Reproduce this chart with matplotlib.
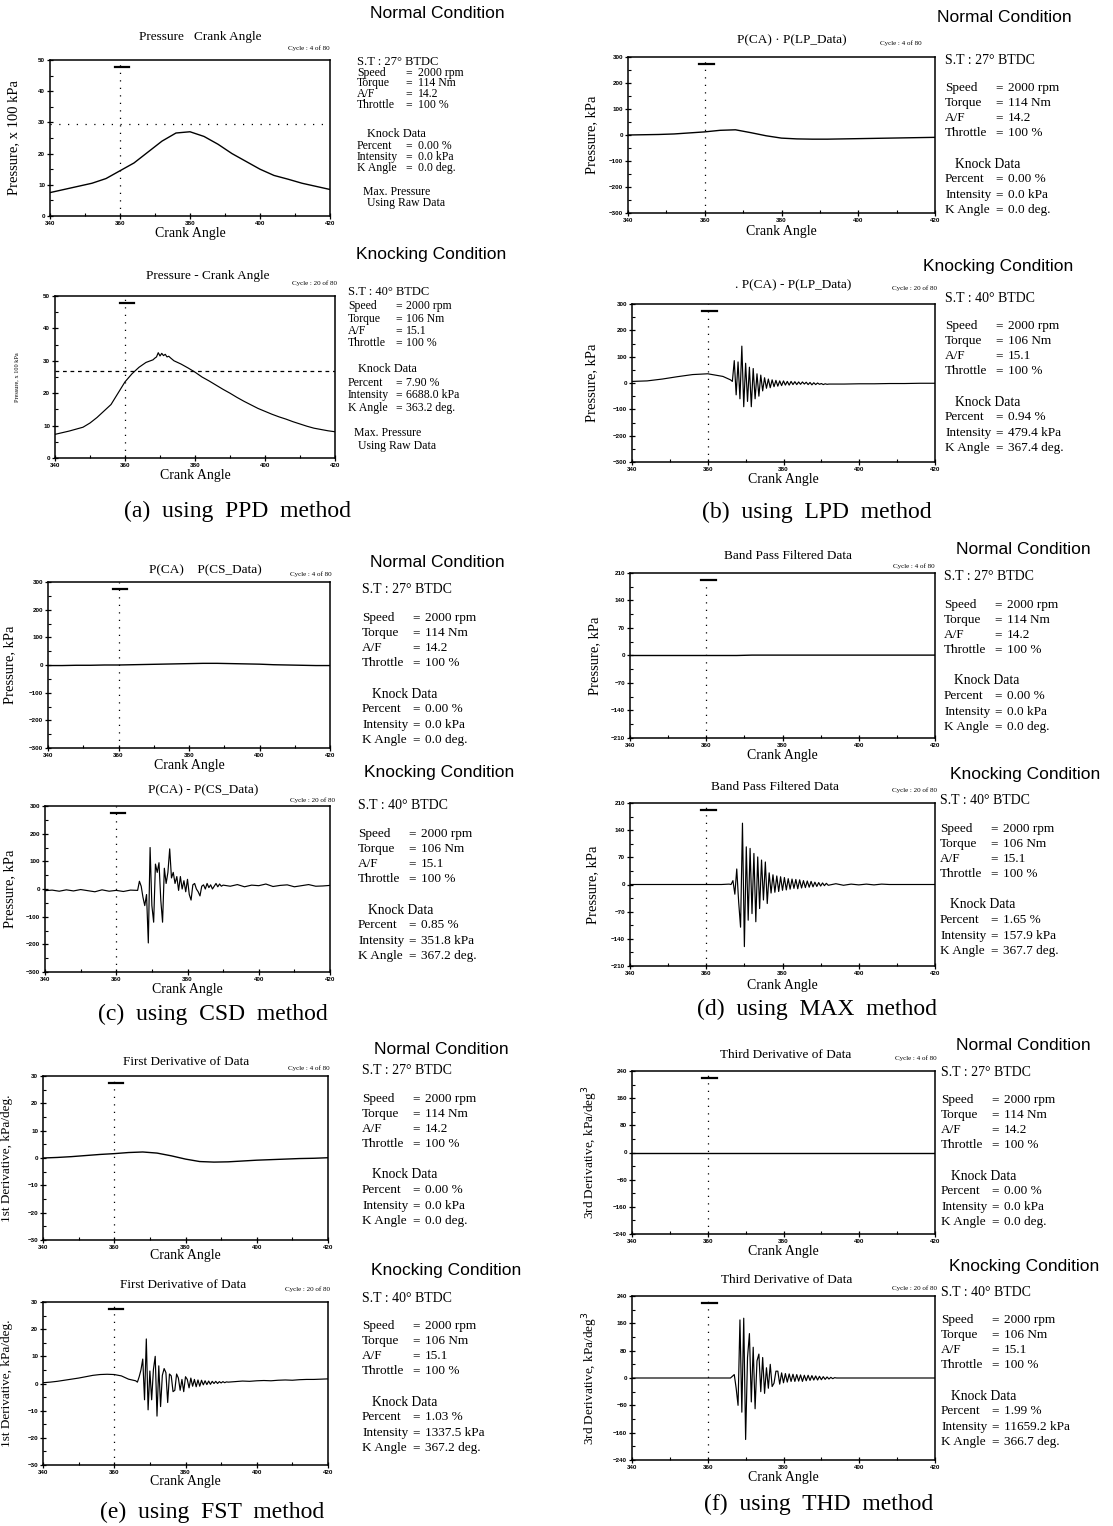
import numpy as np
import matplotlib
matplotlib.use('Agg')
import matplotlib.pyplot as plt
import matplotlib.transforms as mtransforms

# ---------------- data ----------------
methods = ["PPD", "LPD", "CSD", "MAX", "FST", "THD"]
letters = ["a", "b", "c", "d", "e", "f"]
plot_titles_normal = ["Pressure   Crank Angle", "P(CA) \u00b7 P(LP_Data)", "P(CA)    P(CS_Data)",
                      "Band Pass Filtered Data", "First Derivative of Data", "Third Derivative of Data"]
plot_titles_knock = ["Pressure - Crank Angle", ". P(CA) - P(LP_Data)", "P(CA) - P(CS_Data)",
                     "Band Pass Filtered Data", "First Derivative of Data", "Third Derivative of Data"]
y_labels = ["Pressure, x 100 kPa", "Pressure, kPa", "Pressure, kPa", "Pressure, kPa",
            "1st Derivative, kPa/deg.", "3rd Derivative, kPa/deg$^3$"]
cycle_normal = "Cycle : 4 of 80"
cycle_knock = "Cycle : 20 of 80"

st_normal = "S.T : 27\u00b0 BTDC"
st_knock = "S.T : 40\u00b0 BTDC"
engine_labels = ["Speed", "Torque", "A/F", "Throttle"]
engine_normal = ["2000 rpm", "114 Nm", "14.2", "100 %"]
engine_knock = ["2000 rpm", "106 Nm", "15.1", "100 %"]
knock_labels = ["Percent", "Intensity", "K Angle"]
percent_normal = [0.00] * 6
intensity_normal = [0.0] * 6
kangle_normal = [0.0] * 6
percent_knock = [7.90, 0.94, 0.85, 1.65, 1.03, 1.99]
intensity_knock = [6688.0, 479.4, 351.8, 157.9, 1337.5, 11659.2]
kangle_knock = [363.2, 367.4, 367.2, 367.7, 367.2, 366.7]

tdc_angle = 360
ca_coarse = [340, 344, 348, 352, 356, 360, 364, 368, 372, 376, 380,
             384, 388, 392, 396, 400, 404, 408, 412, 416, 420]

# normal condition traces on ca_coarse
ppd_normal = [7.5, 8.5, 9.5, 10.5, 12.0, 14.5, 17.0, 20.5, 24.0, 26.6, 27.0,
              25.5, 23.0, 20.0, 17.5, 15.0, 13.0, 11.8, 10.5, 9.5, 8.5]
lpd_normal = [0, 1, 2, 4, 8, 12, 18, 20, 9, -3, -12,
              -15, -16, -16, -15, -14, -13, -12, -11, -10, -9]
csd_normal = [-2, -2, -1, -1, 0, 0, 1, 2, 3, 4, 5,
              6, 6, 5, 4, 3, 1, 0, -1, -2, -2]
max_normal = [0, 0, 0, 0, 0, 0, 0, 0, 1, 1, 1,
              1, 1, 1, 1, 1, 1, 1, 1, 1, 1]
fst_normal = [0.0, 0.2, 0.5, 0.9, 1.3, 1.6, 2.0, 2.2, 1.8, 0.8, -0.4,
              -1.3, -1.5, -1.4, -1.1, -0.8, -0.6, -0.4, -0.2, -0.1, 0.1]
thd_normal = [0, 0, 0, 0, 0, 0, 0, 0, 0, 0, 0,
              0, 0, 0, 0, 0, 0, 0, 0, 0, 0]
ppd_threshold_normal = 29.5
ppd_threshold_knock = 26.9

# knocking traces: (start angle, step) segments
ppd_knock_pre = [7.3, 7.8, 8.3, 8.9, 9.5, 10.8, 12.5, 14.5, 16.5, 20.0, 23.5, 26.0, 28.0, 29.5, 30.3]  # 340..368 step 2
ppd_knock_peak = [30.8, 31.2, 32.5, 31.5, 32.3, 31.6, 32.0, 31.2, 31.4, 30.9]  # 368.5..373 step .5
ppd_knock_post = [30.0, 29.0, 27.8, 26.5, 25.0, 23.8, 22.5, 21.2, 20.0, 18.7, 17.5, 16.4, 15.3,
                  14.4, 13.5, 12.7, 12.0, 11.2, 10.5, 9.8, 9.2, 8.8, 8.4, 8.1]  # 374..420 step 2

lpd_knock_pre = [6, 8, 15, 24, 32, 35, 25]  # 340..364 step 4
lpd_knock_osc = [12, 6, 85, -45, 80, -60, 140, -90, 75, -70, 60, -90, 55, -60, 35, -50,
                 30, -30, 20, -20, 15, -18, 12, -14, 10, -12, 8, -10, 8, -8, 6, -8,
                 6, -6, 5, -6, 4, -5, 4, -4, 3, -6, 2, -7, 1, -6, 0, -5, -2, -6, -3, -5, -4]  # 366..392 step .5
lpd_knock_post = [-4, -3, -3, -2, -2, -1, -1]  # 396..420 step 4

csd_knock_pre = [-6, -4, -8, -3, -7, -2, -6, -10, -3, -8, -5, -9, -4]  # 340..364 step 2
csd_knock_osc = [-5, 28, 10, -30, -60, -20, -195, 150, -60, -120, 90, 60, 95, -40, -120, 75,
                 20, 60, 145, 40, 60, 20, 45, -5, 45, 0, 30, -10, 35, -20, -40, 15,
                 20, 0, -10, -25, 10, 15, 0, 20, 5, 15, 0, 10, 20, 8, 18, 10, 14]  # 366..390 step .5
csd_knock_post = [10, 16, 8, 14, 12, 18, 9, 13, 15, 8, 12, 16, 10, 11, 13]  # 392..420 step 2

max_knock_pre = [0, 0, 0, 0, 0, 0, 0, 0, 0, 0, 0, 0, 0, 1]  # 340..366 step 2
max_knock_osc = [0, 10, -25, 40, -45, -110, 158, -160, 97, -92, 93, -75, 80, -96, 71, -62,
                 63, -40, 58, -49, 30, -22, 25, -20, 22, -18, 20, -15, 18, -14, 15, -12,
                 14, -10, 13, -11, 12, -9, 10, -8, 9, -7, 8, -6, 6, -5, 5, -4, 4, -3, 3, -2]  # 366.5..392 step .5
max_knock_post = [2, -2, 1, -1, 1, -1, 1, 0, 0, 0, 0, 0, 0, 0]  # 394..420 step 2

fst_knock_pre = [0.3, 0.5, 0.8, 1.2, 1.6, 2.0, 2.5, 3.0, 3.3, 3.4, 3.3, 2.8, 1.6]  # 340..364 step 2
fst_knock_osc = [1.0, 0.5, 2.5, 5.0, 9.0, -6.0, 16.4, -9.7, 4.6, -6.0, 5.2, 10.0, -12.0, 6.5, -8.5, 3.0,
                 5.5, 4.0, -7.0, 3.5, 2.8, -3.0, -2.5, 3.5, 2.0, -2.5, 1.5, -3.0, 2.5, 1.5, -1.6, 2.0,
                 -1.0, 1.5, -1.2, 1.3, -1.0, 1.2, -0.5, 1.0, -0.4, 0.9, -0.3, 0.8, 0.0, 0.8, 0.0, 0.7,
                 0.2, 0.7, 0.3, 0.6, 0.5]  # 366..392 step .5
fst_knock_post = [0.7, 0.9, 0.8, 1.0, 1.1, 1.0, 1.2, 1.3, 1.2, 1.4, 1.5, 1.5, 1.6, 1.7]  # 394..420 step 2

thd_knock_pre = [0, 0, 0, 0, 0, 0, 0, 0, 0, 0, 0, 0, 0]  # 340..364 step 2
thd_knock_osc = [0, 5, 10, -30, -80, 170, -100, 175, -180, 60, 130, -70, 90, -90, 50, 70,
                 -40, 60, -45, 30, -30, 40, -25, -15, 20, 20, -18, 15, -14, 13, -12, 12,
                 -10, 11, -10, 10, -9, 9, -10, 8, -8, 8, -7, 7, -6, 6, -6, 5, -5, 4,
                 -4, 3, -3, 2, -2, 1, 0]  # 366..394 step .5
thd_knock_post = [0, 0, 0, 0, 0, 0, 0, 0, 0, 0, 0, 0, 0]  # 396..420 step 2

# ---------------- helpers ----------------
def seg(start, step, vals):
    return start + step * np.arange(len(vals)), np.asarray(vals, dtype=float)

def join(*parts):
    xs = np.concatenate([p[0] for p in parts])
    ys = np.concatenate([p[1] for p in parts])
    return xs, ys

normal_traces = [ppd_normal, lpd_normal, csd_normal, max_normal, fst_normal, thd_normal]
knock_traces = [
    join(seg(340, 2, ppd_knock_pre), seg(368.5, 0.5, ppd_knock_peak), seg(374, 2, ppd_knock_post)),
    join(seg(340, 4, lpd_knock_pre), seg(366, 0.5, lpd_knock_osc), seg(396, 4, lpd_knock_post)),
    join(seg(340, 2, csd_knock_pre), seg(366, 0.5, csd_knock_osc), seg(392, 2, csd_knock_post)),
    join(seg(340, 2, max_knock_pre), seg(366.5, 0.5, max_knock_osc), seg(394, 2, max_knock_post)),
    join(seg(340, 2, fst_knock_pre), seg(366, 0.5, fst_knock_osc), seg(394, 2, fst_knock_post)),
    join(seg(340, 2, thd_knock_pre), seg(366, 0.5, thd_knock_osc), seg(396, 2, thd_knock_post)),
]
y_ranges = [(0, 50, 10), (-300, 300, 100), (-300, 300, 100), (-210, 210, 70), (-30, 30, 10), (-240, 240, 80)]

# ---------------- layout (pixels) ----------------
W, H = 1113, 1526
fig = plt.figure(figsize=(W / 100, H / 100), dpi=100)
SERIF = ['Liberation Serif', 'DejaVu Serif']
SANS = ['Liberation Sans', 'DejaVu Sans']

def ftext(x, y, s, **kw):
    kw.setdefault('va', 'center')
    fig.text(x / W, 1 - y / H, s, **kw)

layout_normal = [
    dict(box=(50, 330, 60, 216), title=(200, 37), cyc=(330, 48), cond=(437, 14), info=(357, 62), ylx=14, xly=234),
    dict(box=(628, 935, 57, 213), title=(792, 40), cyc=(922, 43), cond=(1004, 17), info=(945, 60), ylx=592, xly=232),
    dict(box=(48, 330, 582, 748), title=(205, 570), cyc=(332, 574), cond=(437, 562), info=(362, 590), ylx=10, xly=765),
    dict(box=(630, 935, 573, 738), title=(788, 556), cyc=(935, 566), cond=(1023, 549), info=(944, 577), ylx=595, xly=756),
    dict(box=(43, 328, 1076, 1240), title=(186, 1062), cyc=(330, 1068), cond=(441, 1050), info=(362, 1071), ylx=7, xly=1256),
    dict(box=(632, 935, 1071, 1234), title=(786, 1055), cyc=(937, 1058), cond=(1023, 1046), info=(941, 1072), ylx=590, xly=1251),
]
layout_knock = [
    dict(box=(55, 335, 296, 458), title=(208, 276), cyc=(337, 283), cond=(431, 254), info=(348, 292), ylx=17, xly=476),
    dict(box=(632, 935, 304, 462), title=(793, 285), cyc=(937, 288), cond=(998, 267), info=(945, 298), ylx=592, xly=480),
    dict(box=(45, 330, 806, 972), title=(203, 790), cyc=(335, 800), cond=(439, 773), info=(358, 806), ylx=10, xly=989),
    dict(box=(630, 935, 803, 966), title=(775, 787), cyc=(937, 790), cond=(1025, 774), info=(940, 801), ylx=593, xly=985),
    dict(box=(43, 328, 1302, 1465), title=(183, 1285), cyc=(330, 1289), cond=(446, 1270), info=(362, 1298), ylx=7, xly=1481),
    dict(box=(632, 935, 1296, 1460), title=(787, 1280), cyc=(937, 1288), cond=(1024, 1267), info=(941, 1292), ylx=590, xly=1477),
]
captions = [(237, 511), (817, 512), (213, 1014), (817, 1009), (212, 1512), (819, 1504)]

offs_ppd = [0, 11, 21, 32, 43, 72, 84, 95, 106, 130, 141]
offs_ppd_k = [0, 14, 27, 39, 51, 77, 91, 103, 116, 141, 154]
offs_std = [0, 28, 43, 58, 73, 104, 119, 135, 150]


def draw_axes(L, xs, ys, yr, title, cycle, ylab, ylab_fs, threshold=None, thr_ls=(0, (1, 6)), lw=1.0):
    x0, x1, y0, y1 = L['box']
    ax = fig.add_axes([x0 / W, 1 - y1 / H, (x1 - x0) / W, (y1 - y0) / H])
    ax.plot(xs, ys, color='k', lw=lw)
    lo, hi, st = yr
    ax.set_xlim(340, 420)
    ax.set_ylim(lo, hi)
    ax.set_yticks(np.arange(lo, hi + st / 2, st))
    ax.set_yticks(np.arange(lo + st / 2, hi, st), minor=True)
    ax.set_xticks([340, 360, 380, 400, 420])
    ax.set_xticks([350, 370, 390, 410], minor=True)
    ax.tick_params(which='major', direction='inout', length=5, width=0.9, labelsize=4.5, pad=1.0)
    ax.tick_params(which='minor', direction='in', length=2.5, width=0.8)
    for lab in ax.get_xticklabels() + ax.get_yticklabels():
        lab.set_fontweight('bold')
        lab.set_family(SANS)
    for sp in ax.spines.values():
        sp.set_linewidth(1.1)
    ax.axvline(tdc_angle, color='k', lw=0.9, ls=(0, (1, 5)))
    trans = mtransforms.blended_transform_factory(ax.transData, ax.transAxes)
    ax.plot([tdc_angle - 1.5, tdc_angle + 2.5], [0.955, 0.955], color='k', lw=1.6, transform=trans)
    if threshold is not None:
        ax.axhline(threshold, color='k', lw=0.9, ls=thr_ls)
    ftext(L['title'][0], L['title'][1], title, ha='center', fontsize=9.5, family=SERIF)
    ftext(L['cyc'][0], L['cyc'][1], cycle, ha='right', fontsize=5, family=SERIF)
    ftext(L['ylx'], (y0 + y1) / 2, ylab, ha='center', rotation=90, fontsize=ylab_fs, family=SERIF)
    ftext((x0 + x1) / 2, L['xly'], "Crank Angle", ha='center', fontsize=10, family=SERIF)
    return ax


def draw_info(L, offs, st, eng, kvals, fs, eq_dx, val_dx, extra=False):
    x, y = L['info']
    ftext(x, y + offs[0], st, fontsize=fs + 0.5, family=SERIF)
    for i, (lab, val) in enumerate(zip(engine_labels, eng)):
        yy = y + offs[1 + i]
        ftext(x, yy, lab, fontsize=fs, family=SERIF)
        ftext(x + eq_dx, yy, "=", fontsize=fs, family=SERIF)
        ftext(x + val_dx, yy, val, fontsize=fs, family=SERIF)
    ftext(x + 10, y + offs[5], "Knock Data", fontsize=fs + 0.3, family=SERIF)
    for j, (lab, val) in enumerate(zip(knock_labels, kvals)):
        yy = y + offs[6 + j]
        ftext(x, yy, lab, fontsize=fs, family=SERIF)
        ftext(x + eq_dx, yy, "=", fontsize=fs, family=SERIF)
        ftext(x + val_dx, yy, val, fontsize=fs, family=SERIF)
    if extra:
        ftext(x + 6, y + offs[9], "Max. Pressure", fontsize=fs, family=SERIF)
        ftext(x + 10, y + offs[10], "Using Raw Data", fontsize=fs, family=SERIF)


for k in range(6):
    Ln = layout_normal[k]
    thr_n = ppd_threshold_normal if k == 0 else None
    draw_axes(Ln, np.asarray(ca_coarse, float), np.asarray(normal_traces[k], float), y_ranges[k],
              plot_titles_normal[k], cycle_normal, y_labels[k], 10.5 if k < 4 else 9.5, threshold=thr_n)
    ftext(Ln['cond'][0], Ln['cond'][1], "Normal Condition", ha='center', fontsize=12.5, family=SANS)
    kv_n = ["%.2f %%" % percent_normal[k], "%.1f kPa" % intensity_normal[k], "%.1f deg." % kangle_normal[k]]
    if k == 0:
        draw_info(Ln, offs_ppd, st_normal, engine_normal, kv_n, 8.5, 48, 61, extra=True)
    else:
        draw_info(Ln, offs_std, st_normal, engine_normal, kv_n, 9.5, 50, 63)

    Lk = layout_knock[k]
    xs, ys = knock_traces[k]
    thr_k = ppd_threshold_knock if k == 0 else None
    draw_axes(Lk, xs, ys, y_ranges[k], plot_titles_knock[k], cycle_knock, y_labels[k],
              4.5 if k == 0 else (10.5 if k < 4 else 9.5), threshold=thr_k, thr_ls=(0, (3, 3)), lw=0.85)
    ftext(Lk['cond'][0], Lk['cond'][1], "Knocking Condition", ha='center', fontsize=12.5, family=SANS)
    kv_k = ["%.2f %%" % percent_knock[k], "%.1f kPa" % intensity_knock[k], "%.1f deg." % kangle_knock[k]]
    if k == 0:
        draw_info(Lk, offs_ppd_k, st_knock, engine_knock, kv_k, 8.5, 47, 58, extra=True)
    else:
        draw_info(Lk, offs_std, st_knock, engine_knock, kv_k, 9.5, 50, 63)

    cx, cy = captions[k]
    ftext(cx, cy, "(%s)  using  %s  method" % (letters[k], methods[k]), ha='center', fontsize=17, family=SERIF)

fig.savefig("out.png", dpi=100, facecolor='white')
